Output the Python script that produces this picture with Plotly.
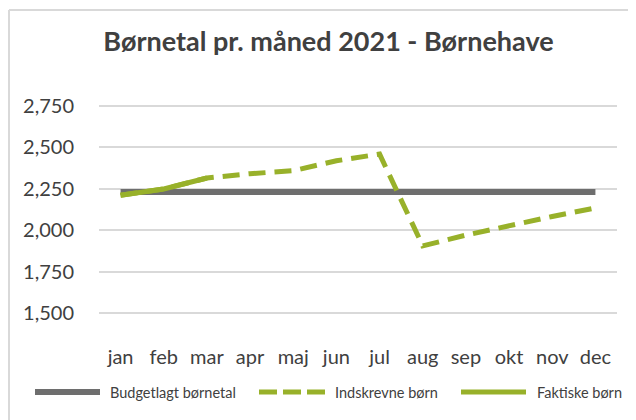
import plotly.graph_objects as go

months = ["jan", "feb", "mar", "apr", "maj", "jun", "jul", "aug", "sep", "okt", "nov", "dec"]
budget = [2230] * 12
indskrevne = [2210, 2248, 2314, 2340, 2358, 2418, 2458, 1905, 1970, 2028, 2082, 2134]
faktiske = [2210, 2248, 2314, None, None, None, None, None, None, None, None, None]
yticks = [1500, 1750, 2000, 2250, 2500, 2750]
series_names = ["Budgetlagt børnetal", "Indskrevne børn", "Faktiske børn"]

GREEN = "#98B12A"
GRAY = "#6E6E6E"
TEXT = "#404040"
FONT = "Lato"

fig = go.Figure()
fig.add_trace(go.Scatter(x=months, y=budget, mode="lines", name=series_names[0],
                         line=dict(color=GRAY, width=6), showlegend=False))
fig.add_trace(go.Scatter(x=months, y=indskrevne, mode="lines", name=series_names[1],
                         line=dict(color=GREEN, width=5, dash="17px,9px"), showlegend=False))
fig.add_trace(go.Scatter(x=months, y=faktiske, mode="lines", name=series_names[2],
                         line=dict(color=GREEN, width=5), showlegend=False))

# page body has an 8px margin, so the figure is 8px smaller and positions are shifted
OFF = 8
W, H = 636 - OFF, 420 - OFF
L, R, T, B = 91, 19, 91, 77
pw = W - L - R
ph = H - T - B

def px_x(x):
    return (x - OFF - L) / pw

def px_y(y):
    return (H - B - (y - OFF)) / ph

shapes = [
    dict(type="line", xref="paper", yref="paper", x0=px_x(9), x1=px_x(650),
         y0=px_y(10), y1=px_y(10), line=dict(color="#D9D9D9", width=2)),
    dict(type="line", xref="paper", yref="paper", x0=px_x(9), x1=px_x(9),
         y0=px_y(10), y1=px_y(430), line=dict(color="#D9D9D9", width=2)),
]
annotations = []

# manual legend (longer symbols like the original)
LEG_Y = 392
legend_items = [
    (series_names[0], GRAY, 6, "solid", 35, 100, 108),
    (series_names[1], GREEN, 5, "18px,6px", 259, 325, 333),
    (series_names[2], GREEN, 5, "solid", 461, 526, 535),
]
for name, color, width, dash, x0, x1, tx in legend_items:
    shapes.append(dict(type="line", xref="paper", yref="paper",
                       x0=px_x(x0), x1=px_x(x1), y0=px_y(LEG_Y), y1=px_y(LEG_Y),
                       line=dict(color=color, width=width, dash=dash)))
    annotations.append(dict(text=name, xref="paper", yref="paper", x=px_x(tx), y=px_y(LEG_Y),
                            xanchor="left", yanchor="middle", showarrow=False,
                            font=dict(size=14.5, family=FONT, color=TEXT)))

fig.update_layout(
    width=W, height=H,
    margin=dict(l=L, r=R, t=T, b=B),
    paper_bgcolor="white", plot_bgcolor="white",
    font=dict(family=FONT, color=TEXT),
    title=dict(text="<b>Børnetal pr. måned 2021 - Børnehave</b>", x=(328.5 - OFF) / W, xanchor="center",
               xref="container", y=1 - (42 - OFF) / H, yanchor="middle", yref="container",
               font=dict(size=27, family=FONT, color=TEXT)),
    xaxis=dict(type="category", categoryorder="array", categoryarray=months,
               range=[-0.5, 11.5], showgrid=False, showline=False, zeroline=False,
               ticks="", tickfont=dict(size=20, family=FONT, color=TEXT)),
    yaxis=dict(range=[1320, 2790], tickvals=yticks, tickformat=",d",
               showgrid=True, gridcolor="#D9D9D9", gridwidth=1.5, zeroline=False,
               showline=False, ticks="", ticklabelstandoff=24,
               tickfont=dict(size=20, family=FONT, color=TEXT)),
    showlegend=False,
    shapes=shapes,
    annotations=annotations,
)

fig.write_html("out.html")
